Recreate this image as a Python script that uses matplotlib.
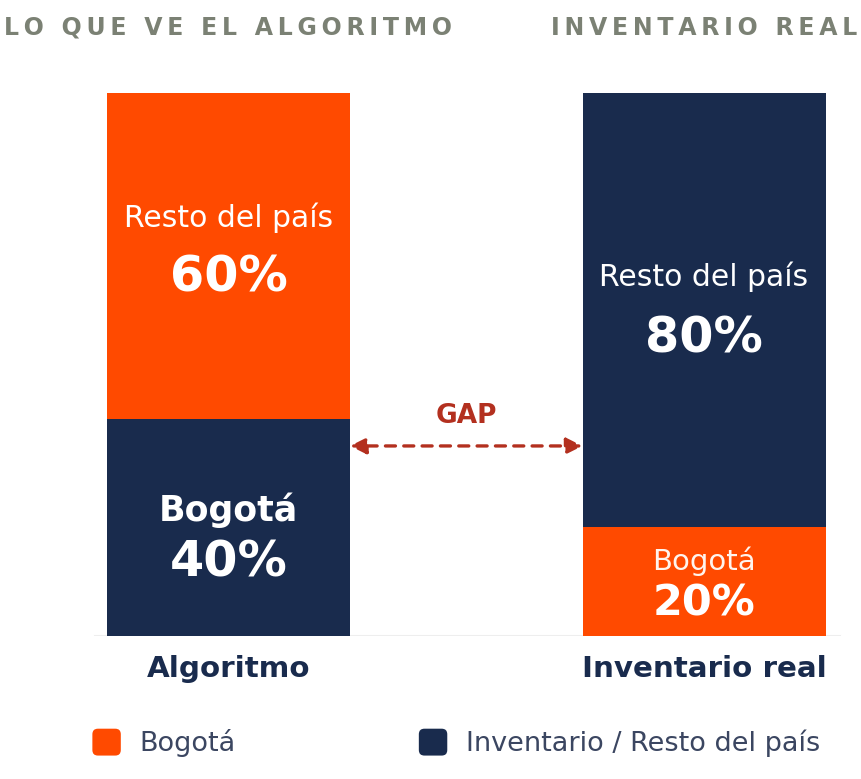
import matplotlib.pyplot as plt
from matplotlib.patches import Patch, FancyBboxPatch
from matplotlib.legend_handler import HandlerPatch

categories = ["Algoritmo", "Inventario real"]
panel_titles = ["LO QUE VE EL ALGORITMO", "INVENTARIO REAL"]
bogota = [40, 20]
resto = [60, 80]
legend_labels = ["Bogotá", "Inventario / Resto del país"]

ORANGE = "#ff4a00"
NAVY = "#192b4d"
GREY = "#7b8174"
GAPRED = "#b3301f"

plt.rcParams['font.family'] = ['DejaVu Sans']


class RoundSquare(HandlerPatch):
    def create_artists(self, legend, orig_handle, xdescent, ydescent,
                       width, height, fontsize, trans):
        p = FancyBboxPatch((-xdescent, -ydescent), width, height,
                           boxstyle="round,pad=0,rounding_size=4",
                           facecolor=orig_handle.get_facecolor(),
                           edgecolor='none', transform=trans)
        return [p]


fig = plt.figure(figsize=(8.62, 7.79), dpi=100)
ax = fig.add_axes([0, 143 / 779, 1, 543 / 779])
ax.set_xlim(-228.5 / 475.5, (862 - 228.5) / 475.5)
ax.set_ylim(0, 100)
ax.axis('off')

x = range(len(categories))
width = 243 / 475.5
ax.bar(x, bogota, width, color=[ORANGE if i else NAVY for i in x])
ax.bar(x, resto, width, bottom=bogota, color=[NAVY if i else ORANGE for i in x])
ax.axhline(0, xmin=95 / 862, xmax=840 / 862, color="#eeeeee", lw=1.5, zorder=0)


def spaced(s):
    return "\u2009".join(s)


for i in x:
    top_mid = bogota[i] + resto[i] / 2
    bot_mid = bogota[i] / 2
    if i == 0:
        ax.text(i, top_mid + 7.0, "Resto del país", ha='center', va='center',
                color='white', fontsize=21.5)
        ax.text(i, top_mid - 4.05, f"{resto[i]}%", ha='center', va='center',
                color='white', fontsize=35.5, fontweight='bold')
        ax.text(i, bot_mid + 3.2, "Bogotá", ha='center', va='center',
                color='white', fontsize=25, fontweight='bold')
        ax.text(i, bot_mid - 6.5, f"{bogota[i]}%", ha='center', va='center',
                color='white', fontsize=35.5, fontweight='bold')
    else:
        ax.text(i, top_mid + 6.2, "Resto del país", ha='center', va='center',
                color='white', fontsize=21.5)
        ax.text(i, top_mid - 5.3, f"{resto[i]}%", ha='center', va='center',
                color='white', fontsize=35.5, fontweight='bold')
        ax.text(i, bot_mid + 3.8, "Bogotá", ha='center', va='center',
                color='#fff4ee', fontsize=21)
        ax.text(i, bot_mid - 4.0, f"{bogota[i]}%", ha='center', va='center',
                color='white', fontsize=31, fontweight='bold')
    ax.text(i, -6, categories[i], ha='center', va='center', color=NAVY,
            fontsize=21.2, fontweight='bold', clip_on=False)
    ax.text(i, 112, spaced(panel_titles[i]), ha='center', va='center',
            color=GREY, fontsize=17, fontweight='bold', clip_on=False)

# GAP arrow between the Bogotá levels
left_edge = 0 + width / 2
right_edge = 1 - width / 2
ax.annotate("", xy=(left_edge, 35.0), xytext=(right_edge, 35.0),
            arrowprops=dict(arrowstyle='<|-|>', color=GAPRED, lw=2.4,
                            linestyle=(0, (3, 2.5)), mutation_scale=24,
                            shrinkA=0, shrinkB=0))
ax.text(0.5, 40.5, "GAP", ha='center', va='center', color=GAPRED,
        fontsize=19, fontweight='bold')

handles = [Patch(facecolor=ORANGE), Patch(facecolor=NAVY)]
fig.legend(handles, legend_labels, ncol=2, frameon=False,
           loc='center left', bbox_to_anchor=(68 / 862, 1 - 743 / 779),
           fontsize=19.5, labelcolor="#3b4661", handlelength=1.05,
           handleheight=1.15, handletextpad=0.7, columnspacing=6.75,
           handler_map={Patch: RoundSquare()})

fig.savefig("out.png", dpi=100, facecolor='white')
